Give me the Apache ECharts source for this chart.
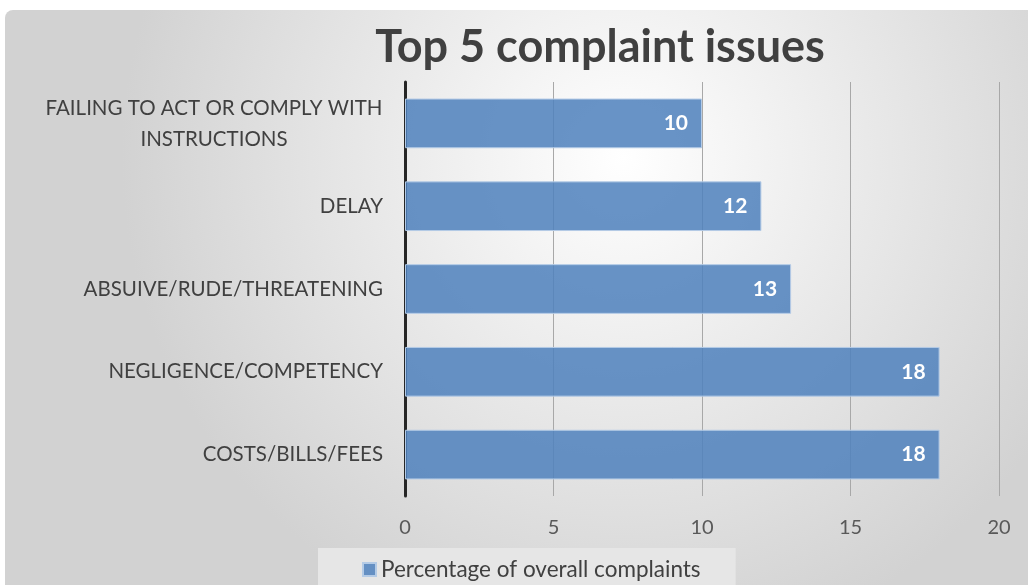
<!DOCTYPE html>
<html>
<head>
<meta charset="utf-8">
<script src="https://cdn.jsdelivr.net/npm/echarts@6/dist/echarts.min.js"></script>
<style>
  html, body { margin: 0; padding: 0; background: #fff; }
  #chart { width: 1028px; height: 585px; }
</style>
</head>
<body>
<div id="chart"></div>
<script>
// categories top to bottom
const issues = [
  'FAILING TO ACT OR COMPLY WITH\nINSTRUCTIONS',
  'DELAY',
  'ABSUIVE/RUDE/THREATENING',
  'NEGLIGENCE/COMPETENCY',
  'COSTS/BILLS/FEES'
];
const percentages = [10, 12, 13, 18, 18];
const xTicks = [0, 5, 10, 15, 20];

const chart = echarts.init(document.getElementById('chart'));

chart.setOption({
  animation: false,
  textStyle: { fontFamily: 'Lato' },
  graphic: [{
    type: 'rect',
    z: -10,
    shape: { x: 5, y: 10, width: 1030, height: 590, r: 8 },
    style: {
      fill: {
        type: 'radial', x: 0.6, y: 0.25, r: 0.85,
        colorStops: [
          { offset: 0, color: '#ffffff' },
          { offset: 1, color: '#d2d2d2' }
        ]
      }
    }
  }],
  title: {
    text: 'Top 5 complaint issues',
    left: 595, textAlign: 'center', top: 20,
    textStyle: { fontFamily: 'Lato', fontWeight: 'bold', fontSize: 45, color: '#404040' }
  },
  legend: {
    left: 318, top: 548,
    padding: [10, 35, 12, 44],
    backgroundColor: '#e6e6e6',
    itemWidth: 13, itemHeight: 13,
    icon: 'rect',
    textStyle: { fontSize: 22.5, color: '#404040', fontFamily: 'Lato' },
    data: ['Percentage of overall complaints']
  },
  grid: { left: 405, right: 29, top: 82, bottom: 89 },
  xAxis: {
    type: 'value',
    min: xTicks[0], max: xTicks[xTicks.length - 1], interval: 5,
    axisLine: { show: false },
    axisTick: { show: false },
    splitLine: { lineStyle: { color: '#a8a8a8', width: 1 } },
    axisLabel: { fontSize: 20, color: '#595959', margin: 22 }
  },
  yAxis: {
    type: 'category',
    inverse: true,
    data: issues,
    axisLine: { lineStyle: { color: '#262626', width: 3 } },
    axisTick: { show: false },
    axisLabel: {
      fontSize: 20.5, color: '#404040', margin: 22,
      formatter: function (v) {
        if (v.indexOf('\n') >= 0) {
          return v.split('\n').map(s => '{w|' + s + '}').join('\n');
        }
        return v;
      },
      rich: { w: { width: 338, align: 'center', fontSize: 20.5, color: '#404040', lineHeight: 31 } }
    }
  },
  series: [{
    name: 'Percentage of overall complaints',
    type: 'bar',
    data: percentages,
    barCategoryGap: '40%',
    itemStyle: { color: 'rgba(79,129,189,0.86)', borderColor: '#b4cbe6', borderWidth: 1 },
    label: {
      show: true, position: 'insideRight', distance: 14,
      color: '#fff', fontWeight: 'bold', fontSize: 21, fontFamily: 'Lato'
    }
  }]
});
</script>
</body>
</html>
